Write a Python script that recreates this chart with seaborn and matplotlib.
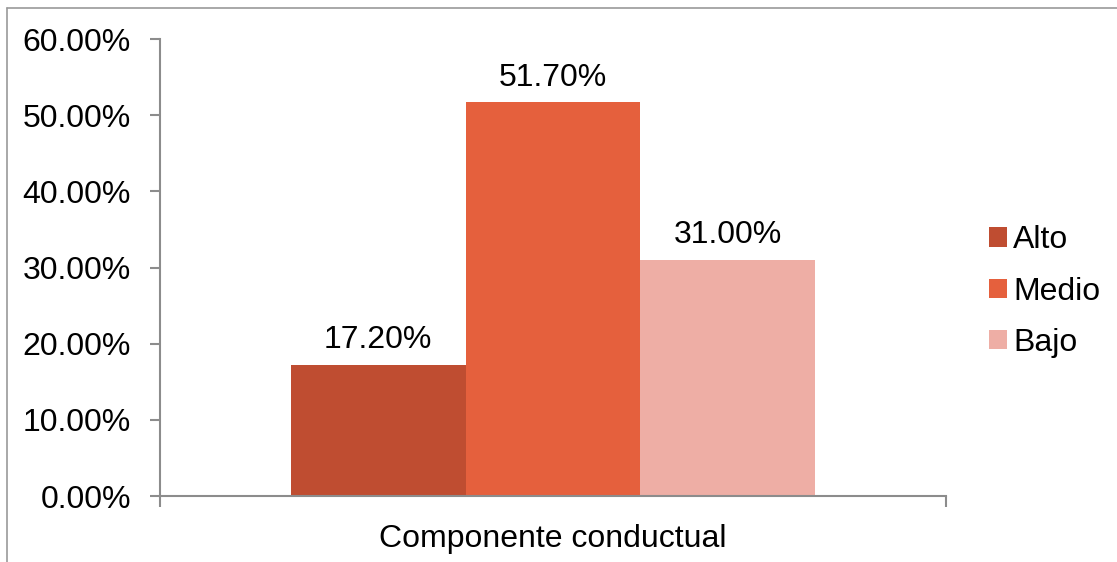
import pandas as pd
import seaborn as sns
import matplotlib.pyplot as plt
from matplotlib.ticker import PercentFormatter
from matplotlib.lines import Line2D

categoria = ['Componente conductual']
niveles = ['Alto', 'Medio', 'Bajo']
porcentajes = [0.172, 0.517, 0.310]
colores = ['#BF4D31', '#E5603D', '#EEAEA5']

data = pd.DataFrame({
    'componente': categoria * len(niveles),
    'nivel': niveles,
    'valor': porcentajes,
})

sns.set_style("white")
plt.rcParams['font.family'] = ['Liberation Sans', 'DejaVu Sans']
plt.rcParams['text.color'] = 'black'

fs = 23
gris = '#8C8C8C'

fig = plt.figure(figsize=(11.17, 5.62), dpi=100)
ax = fig.add_axes([0.1432, 0.1174, 0.7037, 0.8132])

sns.barplot(data=data, x='componente', y='valor', hue='nivel', hue_order=niveles,
            palette=colores, width=0.667, saturation=1, linewidth=0, ax=ax, legend=True)

for c in ax.containers:
    ax.bar_label(c, labels=[f'{v * 100:.2f}%' for v in c.datavalues],
                 fontsize=fs, padding=7, color='black')

ax.set_ylim(0, 0.6)
ax.set_yticks([0, 0.1, 0.2, 0.3, 0.4, 0.5, 0.6])
ax.yaxis.set_major_formatter(PercentFormatter(xmax=1, decimals=2))
ax.set_xlim(-0.5, 0.5)
ax.set_xlabel('')
ax.set_ylabel('')

# category boundary ticks like excel
ax.set_xticks([-0.5, 0.5], minor=True)
ax.tick_params(axis='x', which='minor', bottom=True, length=8, width=1.5,
               color=gris, direction='out')
ax.tick_params(axis='x', which='major', bottom=True, length=0, labelsize=fs,
               labelcolor='black', pad=20)
ax.tick_params(axis='y', left=True, length=7, width=1.5, color=gris, direction='out',
               labelsize=fs, labelcolor='black', pad=14)

for s in ['top', 'right']:
    ax.spines[s].set_visible(False)
for s in ['left', 'bottom']:
    ax.spines[s].set_color(gris)
    ax.spines[s].set_linewidth(1.5)

leg = ax.legend(loc='center left', bbox_to_anchor=(1.055, 0.447), frameon=False,
                fontsize=fs, handlelength=0.55, handleheight=0.55, handletextpad=0.2,
                labelspacing=0.67, borderpad=0, borderaxespad=0)
for t in leg.get_texts():
    t.set_color('black')

# outer chart border (left and top visible)
fig.add_artist(Line2D([0.0065, 0.0065], [0, 0.986], color='#9A9A9A', lw=1.2,
                      transform=fig.transFigure))
fig.add_artist(Line2D([0.0065, 1.0], [0.986, 0.986], color='#9A9A9A', lw=1.2,
                      transform=fig.transFigure))

plt.savefig('out.png', dpi=100)
